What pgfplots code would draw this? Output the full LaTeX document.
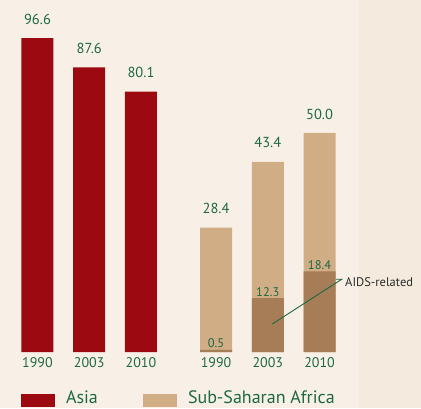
\documentclass[border=0pt]{standalone}
\usepackage{fontspec}
\setmainfont{PT Sans}
\usepackage{pgfplots}
\pgfplotsset{compat=1.18}
\definecolor{bg}{HTML}{F8F0E6}
\definecolor{panel}{HTML}{F4EBDE}
\definecolor{asia}{HTML}{9D0911}
\definecolor{tanc}{HTML}{D0AD85}
\definecolor{brownc}{HTML}{A67D57}
\definecolor{grn}{HTML}{1D6844}
\definecolor{txt}{HTML}{2A2A2A}
\pgfplotsset{
  base/.style={scale only axis, width=421pt, height=408pt, at={(0pt,0pt)}, anchor=south west,
    hide axis, clip=false, xmin=-0.7246, xmax=7.4106,
    /pgf/number format/assume math mode=true,
    legend style={draw=none, fill=none, inner sep=0pt, outer sep=0pt,
      font=\fontsize{18}{20}\selectfont, text=grn, column sep=11pt,
      nodes={inner sep=0pt, yshift=2.5pt}, legend cell align=left}},
  yr/.style={draw=none, mark=none, forget plot, nodes near coords, point meta=explicit symbolic,
    nodes near coords style={anchor=center, yshift=-11pt, text=grn, font=\fontsize{14}{16}\selectfont}},
  val/.style={nodes near coords={\pgfmathprintnumber[fixed, fixed zerofill, precision=1]{\pgfplotspointmeta}},
    nodes near coords style={anchor=center, yshift=19pt, text=grn, font=\fontsize{14.5}{16}\selectfont}},
  inval/.style={nodes near coords={\pgfmathprintnumber[fixed, fixed zerofill, precision=1]{\pgfplotspointmeta}},
    nodes near coords style={anchor=center, yshift=6.5pt, text=grn, font=\fontsize{12.5}{14}\selectfont}},
}
\begin{document}
\begin{tikzpicture}[x=1pt,y=1pt]
\useasboundingbox (0,0) rectangle (421,408);
\clip (0,0) rectangle (421,408);
\fill[bg] (0,0) rectangle (421,408);
\fill[panel] (359,0) rectangle (421,408);

\begin{axis}[base, ymin=-17.2308, ymax=108.3077,
  legend style={at={(axis description cs:0.0499,0.0220)}, anchor=west}]
\addplot[ybar, bar width=32pt, bar shift=0pt, fill=asia, draw=none, val,
  legend image code/.code={\fill[asia] (0pt,-6.5pt) rectangle (34pt,6.5pt);}]
  coordinates {(0,96.6) (1,87.6) (2,80.1)};
\addlegendentry{Asia}
\addplot[yr] table[meta=lab] {
x y lab
0 0 1990
1 0 2003
2 0 2010
};
\end{axis}

\begin{axis}[base, ymin=-12.7854, ymax=80.3653,
  legend style={at={(axis description cs:0.3397,0.0220)}, anchor=west}]
\addplot[ybar, bar width=32pt, bar shift=0pt, fill=tanc, draw=none, val,
  legend image code/.code={\fill[tanc] (0pt,-6.5pt) rectangle (34pt,6.5pt);}]
  coordinates {(3.45,28.4) (4.45,43.4) (5.45,50.0)};
\addlegendentry{Sub-Saharan Africa}
\addplot[ybar, bar width=32pt, bar shift=0pt, fill=brownc, draw=none, forget plot, inval]
  coordinates {(3.45,0.5) (4.45,12.3) (5.45,18.4)};
\addplot[yr] table[meta=lab] {
x y lab
3.45 0 1990
4.45 0 2003
5.45 0 2010
};
\draw[grn, line width=0.9pt] (axis cs:4.537,6.39) -- (axis cs:5.878,16.6) -- (axis cs:5.768,16.6);
\node[anchor=west, text=txt, font=\fontsize{12.5}{14}\selectfont, inner sep=0pt] at (axis cs:5.942,15.98) {AIDS-related};
\end{axis}
\end{tikzpicture}
\end{document}
